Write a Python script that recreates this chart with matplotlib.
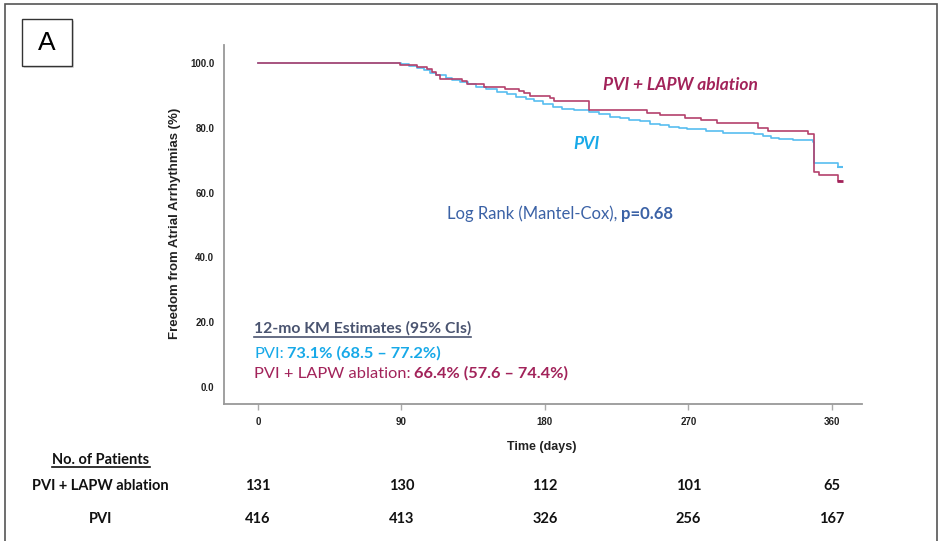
import numpy as np
import matplotlib.pyplot as plt
from matplotlib.patches import Rectangle
from matplotlib.lines import Line2D
from matplotlib.transforms import blended_transform_factory

# step points (day, % free from AA)
lapw_days = [0, 89, 100, 106, 109, 112, 114, 128, 131, 142, 155, 164, 167, 171, 183, 186,
             208, 244, 252, 268, 278, 288, 314, 320, 345, 349, 352, 364, 365]
lapw_pct = [100, 99.2, 98.8, 98.1, 97.3, 96.1, 95.1, 94.3, 93.4, 92.7, 92.0, 91.4, 90.6, 89.9, 89.1, 88.1,
            85.6, 84.4, 83.9, 83.1, 82.4, 81.4, 80.0, 79.1, 78.1, 66.2, 65.4, 63.6, 63.6]

pvi_days = [0, 90, 95, 100, 104, 108, 112, 118, 122, 127, 132, 137, 143, 150, 156, 162, 168, 173,
            179, 185, 191, 198, 208, 214, 221, 227, 233, 240, 246, 252, 258, 264, 269, 281, 292,
            311, 317, 322, 327, 336, 348, 349, 364, 365]
pvi_pct = [100, 99.5, 98.9, 98.4, 97.8, 97.0, 96.1, 95.3, 94.6, 94.0, 93.4, 92.7, 91.9, 91.1, 90.4, 89.6, 88.8, 88.1,
           87.2, 86.3, 85.9, 85.5, 84.8, 84.1, 83.4, 82.9, 82.4, 82.1, 81.1, 80.7, 80.3, 79.9, 79.5, 79.1, 78.3,
           78.1, 77.3, 76.9, 76.5, 76.2, 75.7, 69.0, 68.0, 68.0]

xticks = [0, 90, 180, 270, 360]
yticks = [0, 20, 40, 60, 80, 100]
risk_lapw = [131, 130, 112, 101, 65]
risk_pvi = [416, 413, 326, 256, 167]

RED_LINE = "#B4416C"
BLUE_LINE = "#58BDF0"
RED = "#A2235A"
BLUE = "#17A9E8"
NAVY = "#3B62A6"
SLATE = "#4A5470"

W, H = 940, 541
fig = plt.figure(figsize=(W / 100, H / 100), dpi=100)


def fx(px):
    return px / W


def fy(py):
    return 1 - py / H


# outer frame and panel letter
fig.patches.append(Rectangle((fx(5), -0.02), fx(932), fy(4) + 0.02, transform=fig.transFigure,
                             fill=False, edgecolor="#555555", lw=1.2))
fig.patches.append(Rectangle((fx(24), fy(68)), fx(50), 47 / H, transform=fig.transFigure,
                             fill=True, facecolor="#bbbbbb", edgecolor="none", alpha=0.5))
fig.patches.append(Rectangle((fx(22), fy(66)), fx(50), 47 / H, transform=fig.transFigure,
                             facecolor="white", edgecolor="#333333", lw=1.0))
fig.text(fx(47), fy(43), "A", fontsize=19, family="Liberation Sans", ha="center", va="center")

ax = fig.add_axes([fx(224), fy(404), fx(862) - fx(224), fy(45) - fy(404)])
ax.step(pvi_days, pvi_pct, where="post", color=BLUE_LINE, lw=1.2)
ax.step(lapw_days, lapw_pct, where="post", color=RED_LINE, lw=1.2)
ax.plot(lapw_days[-1], lapw_pct[-1], marker="_", color=RED, ms=5, mew=2)
ax.plot(pvi_days[-1], pvi_pct[-1], marker="_", color=BLUE_LINE, ms=4, mew=1.5)

ax.set_xlim(-21.3, 379)
ax.set_ylim(-5.2, 105.5)
for s in ["top", "right"]:
    ax.spines[s].set_visible(False)
for s in ["left", "bottom"]:
    ax.spines[s].set_color("#999999")
    ax.spines[s].set_linewidth(1.3)
ax.set_xticks(xticks)
ax.set_xticklabels([str(t) for t in xticks], fontsize=7, fontweight="bold", family="Liberation Sans")
ax.set_yticks(yticks)
ax.set_yticklabels(["%.1f" % t for t in yticks], fontsize=7, fontweight="bold", family="Liberation Sans")
ax.tick_params(axis="x", length=4.5, width=1, color="#aaaaaa", pad=5, labelcolor="#222222")
ax.tick_params(axis="y", length=0, pad=7, labelcolor="#222222")

fig.text(fx(175), fy(223), "Freedom from Atrial Arrhythmias (%)", rotation=90, ha="center", va="center",
         fontsize=9.5, fontweight="bold", family="Liberation Sans", color="#222222")
fig.text(fx(542), fy(447), "Time (days)", ha="center", va="center",
         fontsize=9, fontweight="bold", family="Liberation Sans", color="#222222")

fig.text(fx(603), fy(85), "PVI + LAPW ablation", ha="left", va="center", fontsize=12.5,
         fontweight="bold", style="italic", family="Lato", color=RED)
fig.text(fx(586), fy(144), "PVI", ha="center", va="center", fontsize=12.5,
         fontweight="bold", style="italic", family="Lato", color=BLUE)

renderer = fig.canvas.get_renderer()


def runs(x0, base, pieces, size, gap=3.5):
    x = fx(x0)
    for s, color, weight in pieces:
        t = fig.text(x, fy(base), s, color=color, fontweight=weight, fontsize=size,
                     family="Lato", ha="left", va="baseline")
        bb = t.get_window_extent(renderer)
        x += (bb.width + gap) / W
    return t


def underline(t, color, offset=3):
    bb = t.get_window_extent(renderer)
    y = t.get_position()[1] - offset / H
    fig.add_artist(Line2D([bb.x0 / W, bb.x1 / W], [y, y], transform=fig.transFigure,
                          color=color, lw=1.2))


runs(447, 219, [("Log Rank (Mantel-Cox),", NAVY, "normal"), ("p=0.68", NAVY, "bold")], 12)

t = runs(254, 333, [("12-mo KM Estimates (95% CIs)", SLATE, "bold")], 11.3)
underline(t, SLATE, 3.5)
runs(254, 358, [("PVI:", BLUE, "normal"), ("73.1% (68.5 \u2013 77.2%)", BLUE, "bold")], 11.8)
runs(254, 378, [("PVI + LAPW ablation:", RED, "normal"), ("66.4% (57.6 \u2013 74.4%)", RED, "bold")], 11.8)

# number at risk table
t = fig.text(fx(101), fy(464), "No. of Patients", ha="center", va="baseline", fontsize=10.5,
             fontweight="bold", family="Lato", color="#111111")
underline(t, "#111111", 3)
fig.text(fx(100), fy(490), "PVI + LAPW ablation", ha="center", va="baseline", fontsize=10.5,
         fontweight="bold", family="Lato", color="#111111")
fig.text(fx(101), fy(523), "PVI", ha="center", va="baseline", fontsize=10.5,
         fontweight="bold", family="Lato", color="#111111")
tr = blended_transform_factory(ax.transData, fig.transFigure)
for d, a, b in zip(xticks, risk_lapw, risk_pvi):
    fig.text(d, fy(490), str(a), transform=tr, ha="center", va="baseline", fontsize=10.5,
             fontweight="bold", family="Lato", color="#111111")
    fig.text(d, fy(523), str(b), transform=tr, ha="center", va="baseline", fontsize=10.5,
             fontweight="bold", family="Lato", color="#111111")

fig.savefig("out.png", dpi=100)
